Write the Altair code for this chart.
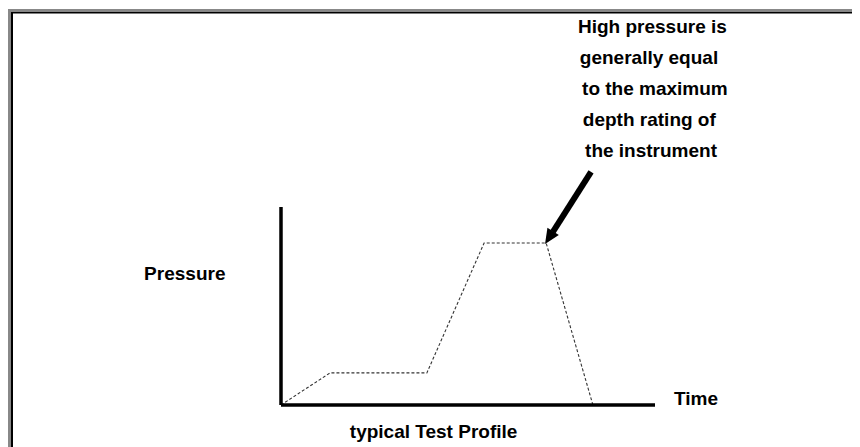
import altair as alt
import pandas as pd

# Test profile (time, pressure) in arbitrary units, axes run 0..100
profile_time = [0, 13.1, 39.0, 54.3, 70.9, 83.4]
profile_pressure = [0, 16.2, 16.2, 81.8, 81.8, 0]

axis_max_time = 100
axis_max_pressure = 100

# annotation text lines
note_lines = ["High pressure is", "generally equal", "to the maximum", "depth rating of", "the instrument"]
note_time = [79.4, 79.9, 80.5, 80.7, 81.3]
note_pressure = [187.9, 172.2, 156.6, 140.9, 125.3]

labels = ["Pressure", "Time", "typical Test Profile"]
label_time = [-36.6, 105.1, 18.4]
label_pressure = [63.1, 0.0, -16.7]

# arrow: shaft start, head tip
arrow_time = [82.9, 72.7]
arrow_pressure = [117.7, 87.4]
tip_time = [70.6]
tip_pressure = [81.3]

W, H = 844, 439
# chart origin is page (8, 8); time origin at page x 281, pressure origin at page y 405
x0 = (0 - 273) / 3.74
x1 = (W - 273) / 3.74
y_top = 397 / 1.98
y_bot = (397 - H) / 1.98
xs = alt.Scale(domain=[x0, x1], nice=False, zero=False)
ys = alt.Scale(domain=[y_bot, y_top], nice=False, zero=False)

prof = pd.DataFrame({"t": profile_time, "p": profile_pressure, "o": range(len(profile_time))})
line = alt.Chart(prof).mark_line(color="#333333", strokeWidth=1.1, strokeDash=[3, 2]).encode(
    x=alt.X("t:Q", scale=xs, axis=None),
    y=alt.Y("p:Q", scale=ys, axis=None),
    order="o:O",
)

axes_df = pd.DataFrame({"t": [0, 0], "t2": [0, axis_max_time], "p": [0, 0], "p2": [axis_max_pressure, 0]})
axes = alt.Chart(axes_df).mark_rule(color="black", strokeWidth=3.5).encode(
    x=alt.X("t:Q", scale=xs, axis=None), x2="t2:Q",
    y=alt.Y("p:Q", scale=ys, axis=None), y2="p2:Q",
)

arr_df = pd.DataFrame({"t": arrow_time, "p": arrow_pressure, "o": [0, 1]})
shaft = alt.Chart(arr_df).mark_line(color="black", strokeWidth=6, strokeCap="butt").encode(
    x=alt.X("t:Q", scale=xs, axis=None),
    y=alt.Y("p:Q", scale=ys, axis=None),
    order="o:O",
)
tip_df = pd.DataFrame({"t": tip_time, "p": tip_pressure})
head = alt.Chart(tip_df).mark_point(
    shape="M0,0L-0.45,-1L0.45,-1Z", filled=True, color="black", opacity=1, size=900, angle=32.6
).encode(
    x=alt.X("t:Q", scale=xs, axis=None),
    y=alt.Y("p:Q", scale=ys, axis=None),
)

txt_style = dict(font="Liberation Sans", fontWeight="bold", fontSize=19, color="black",
                 align="left", baseline="alphabetic")
note_df = pd.DataFrame({"t": note_time, "p": note_pressure, "s": note_lines})
notes = alt.Chart(note_df).mark_text(**txt_style).encode(
    x=alt.X("t:Q", scale=xs, axis=None),
    y=alt.Y("p:Q", scale=ys, axis=None),
    text="s:N",
)
lab_df = pd.DataFrame({"t": label_time, "p": label_pressure, "s": labels})
labs = alt.Chart(lab_df).mark_text(**txt_style).encode(
    x=alt.X("t:Q", scale=xs, axis=None),
    y=alt.Y("p:Q", scale=ys, axis=None),
    text="s:N",
)

# frame decoration (left and top edges)
frame_src = pd.DataFrame({"k": [0]})
b1 = alt.Chart(frame_src).mark_rule(color="#888888", strokeWidth=3).encode(
    x=alt.value(1.5), y=alt.value(1), y2=alt.value(H))
b2 = alt.Chart(frame_src).mark_rule(color="black", strokeWidth=2).encode(
    x=alt.value(4), y=alt.value(4), y2=alt.value(H))
b3 = alt.Chart(frame_src).mark_rule(color="#888888", strokeWidth=3).encode(
    x=alt.value(0), x2=alt.value(W), y=alt.value(2.5))
b4 = alt.Chart(frame_src).mark_rule(color="black", strokeWidth=1.5).encode(
    x=alt.value(3), x2=alt.value(W), y=alt.value(4.75))

chart = alt.layer(b1, b2, b3, b4, line, axes, shaft, head, notes, labs).properties(
    width=W, height=H, padding=0, autosize=alt.AutoSizeParams(type="none"), background="white"
).configure_view(stroke="white", strokeOpacity=0, strokeWidth=0, fill="white")

chart.save("out.html", embed_options={"renderer": "svg", "actions": False})
